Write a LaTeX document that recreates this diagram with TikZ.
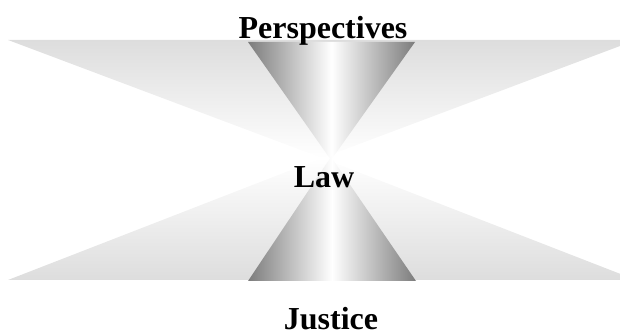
\documentclass[tikz,border=0pt]{standalone}
\usepackage{fontspec}
\setmainfont{Liberation Serif}
\definecolor{fahl}{HTML}{DDDDDD}
\definecolor{kegel}{HTML}{7C7C7C}
\tikzset{
  facheroben/.style={top color=fahl,bottom color=white,draw=none},
  facherunten/.style={bottom color=fahl,top color=white,draw=none},
  kegelmantel/.style={left color=kegel,right color=kegel,middle color=white,draw=none},
  titel/.style={font=\bfseries\fontsize{32}{36}\selectfont,anchor=base,inner sep=0pt},
}
\begin{document}
\begin{tikzpicture}[x=1pt,y=1pt]
  \useasboundingbox (0,0) rectangle (620,336);
  \begin{scope}
    \clip (0,0) rectangle (620,336);
    \shade[facheroben] (8,296)--(636,296)--(322,178)--cycle;
    \shade[facherunten] (8,56)--(636,56)--(322,178)--cycle;
  \end{scope}
  \shade[kegelmantel] (248,294)--(415,294)--(331,176)--cycle;
  \shade[kegelmantel] (248,55)--(416,55)--(331,179)--cycle;
  \node[titel] (persp) at (323,297) {Perspectives};
  \node[titel] (law) at (324,148) {Law};
  \node[titel] (justice) at (331,6) {Justice};
\end{tikzpicture}
\end{document}
